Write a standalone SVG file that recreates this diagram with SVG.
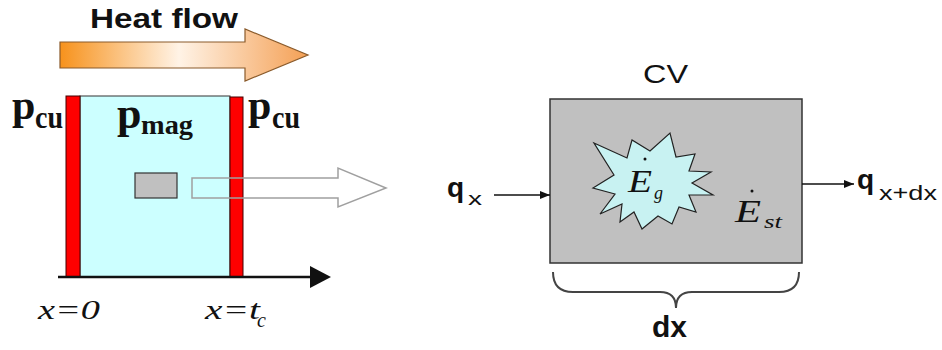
<svg xmlns="http://www.w3.org/2000/svg" width="942" height="350" viewBox="0 0 942 350">
<defs>
<linearGradient id="heat" x1="60" y1="0" x2="308" y2="0" gradientUnits="userSpaceOnUse">
<stop offset="0" stop-color="#f7921c"/>
<stop offset="0.48" stop-color="#fff3e6"/>
<stop offset="1" stop-color="#f4a055"/>
</linearGradient>
<marker id="arr" viewBox="0 0 10 10" refX="10" refY="5" markerWidth="10" markerHeight="10" markerUnits="userSpaceOnUse" orient="auto">
<path d="M0,1 L10,5 L0,9 Z" fill="#111"/>
</marker>
</defs>
<style>
.sans{font-family:"Liberation Sans",Arial,sans-serif}
.serifb{font-family:"Liberation Serif","Times New Roman",serif;font-weight:bold}
.serifi{font-family:"Liberation Serif","Times New Roman",serif;font-style:italic}
.line{stroke:#111;stroke-width:1.5;fill:none}
</style>
<rect width="942" height="350" fill="#ffffff"/>

<g id="heatflow">
<polygon points="60,42 245,42 245,29 308,55 245,81 245,68 60,68" fill="url(#heat)" stroke="#8a5a2a" stroke-width="1.2"/>
<text class="sans" x="90" y="28" font-size="28" font-weight="bold" textLength="148" lengthAdjust="spacingAndGlyphs" fill="#111">Heat flow</text>
</g>

<g id="block">
<rect x="80" y="96" width="150" height="181" fill="#ccffff" stroke="#333" stroke-width="1"/>
<rect x="66" y="96" width="14" height="181" fill="#ff0000" stroke="#400" stroke-width="1"/>
<rect x="230" y="97" width="13" height="180" fill="#ff0000" stroke="#400" stroke-width="1"/>
<rect x="135" y="173" width="42" height="25" fill="#c0c0c0" stroke="#333" stroke-width="1.2"/>
</g>

<g id="labels-left">
<text class="serifb" x="12" y="119" font-size="42" fill="#111">p</text>
<text class="serifb" x="35" y="128" font-size="32" textLength="28" lengthAdjust="spacingAndGlyphs" fill="#111">cu</text>
<text class="serifb" x="117" y="128" font-size="44" fill="#111">p</text>
<text class="serifb" x="141" y="134" font-size="27" textLength="52" lengthAdjust="spacingAndGlyphs" fill="#111">mag</text>
<text class="serifb" x="248" y="119" font-size="42" fill="#111">p</text>
<text class="serifb" x="272" y="128" font-size="32" textLength="28" lengthAdjust="spacingAndGlyphs" fill="#111">cu</text>
<text class="serifi" x="38" y="319" font-size="28" textLength="62" lengthAdjust="spacingAndGlyphs" fill="#111">x=0</text>
<text class="serifi" x="205" y="319" font-size="28" textLength="55" lengthAdjust="spacingAndGlyphs" fill="#111">x=t</text>
<text class="serifi" x="257" y="327" font-size="20" fill="#111">c</text>
</g>

<g id="hollow-arrow">
<polygon points="192,178 338,178 338,168 386,188 338,207 338,198 192,198" fill="none" stroke="#a0a0a0" stroke-width="1.5"/>
</g>

<g id="axis">
<line x1="58" y1="277" x2="312" y2="277" stroke="#111" stroke-width="2.5"/>
<polygon points="310,266 331,277 310,288" fill="#111"/>
</g>

<g id="cv">
<text class="sans" x="643" y="83" font-size="25" textLength="45" lengthAdjust="spacingAndGlyphs" fill="#111">CV</text>
<rect x="550" y="99" width="252" height="164" fill="#c0c0c0" stroke="#333" stroke-width="1.5"/>
<polygon points="594,143 627,158 632,140 650,151 670,133 676,157 695,154 689,171 711,172 692,183 713,195 689,195 696,212 679,207 672,224 658,216 642,229 634,212 620,222 622,204 600,214 615,194 593,188 614,175" fill="#c8f2f2" stroke="#222" stroke-width="1.2" stroke-linejoin="miter"/>
<text class="serifi" x="628" y="192" font-size="31" textLength="24" lengthAdjust="spacingAndGlyphs" fill="#111">E</text>
<circle cx="645" cy="159" r="1.5" fill="#111"/>
<text class="serifi" x="654" y="199" font-size="18" fill="#111">g</text>
<text class="serifi" x="735" y="222" font-size="31" textLength="26" lengthAdjust="spacingAndGlyphs" fill="#111">E</text>
<circle cx="752" cy="191" r="1.5" fill="#111"/>
<text class="serifi" x="764" y="228" font-size="19" textLength="18" lengthAdjust="spacingAndGlyphs" fill="#111">st</text>
</g>

<g id="qx">
<text class="sans" x="447" y="197" font-size="28" font-weight="bold" fill="#111">q</text>
<text class="sans" x="468" y="205" font-size="18" textLength="14" lengthAdjust="spacingAndGlyphs" fill="#111">x</text>
</g>

<g id="qxdx">
<text class="sans" x="857" y="189" font-size="28" font-weight="bold" fill="#111">q</text>
<text class="sans" x="879" y="200" font-size="20" textLength="58" lengthAdjust="spacingAndGlyphs" fill="#111">x+dx</text>
</g>

<g id="connectors">
<line class="line" x1="494" y1="195" x2="550" y2="195" marker-end="url(#arr)"/>
<line class="line" x1="802" y1="184" x2="854" y2="184" marker-end="url(#arr)"/>
</g>

<g id="brace">
<path d="M553,272 Q553,292 573,292 L660,292 Q676,292 676,308 Q676,292 692,292 L779,292 Q799,292 799,272" fill="none" stroke="#444" stroke-width="2"/>
<text class="sans" x="652" y="337" font-size="30" font-weight="bold" fill="#111">dx</text>
</g>
</svg>
